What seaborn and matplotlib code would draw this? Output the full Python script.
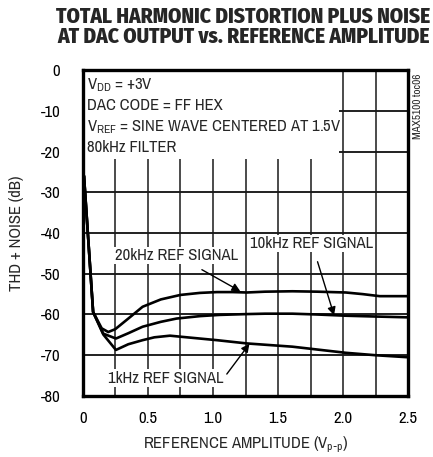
import numpy as np
import pandas as pd
import matplotlib
matplotlib.use("Agg")
import matplotlib.pyplot as plt
import seaborn as sns
from matplotlib.patches import Rectangle

# ---- data ----
x_20k = [0.01, 0.08, 0.146, 0.196, 0.25, 0.35, 0.46, 0.6, 0.75, 0.9, 1.03, 1.15, 1.26, 1.4, 1.61, 1.8, 2.02, 2.15, 2.28, 2.5]
y_20k = [-26, -59.4, -63.4, -64.3, -63.6, -61.0, -58.1, -56.3, -55.2, -54.7, -54.5, -54.5, -54.6, -54.4, -54.3, -54.4, -54.6, -55.0, -55.5, -55.5]

x_10k = [0.01, 0.08, 0.158, 0.255, 0.35, 0.46, 0.6, 0.72, 0.9, 1.05, 1.26, 1.4, 1.61, 1.8, 2.02, 2.25, 2.5]
y_10k = [-26, -59.4, -64.7, -65.9, -64.6, -63.0, -61.8, -61.0, -60.4, -60.1, -59.9, -59.8, -59.8, -60.0, -60.3, -60.5, -60.7]

x_1k = [0.01, 0.08, 0.158, 0.255, 0.35, 0.46, 0.55, 0.67, 0.8, 1.03, 1.26, 1.61, 2.02, 2.25, 2.5]
y_1k = [-26, -59.4, -64.9, -68.7, -67.3, -66.3, -65.6, -65.2, -65.6, -66.3, -67.1, -67.9, -69.4, -70.0, -70.5]

x_ticks = [0, 0.5, 1.0, 1.5, 2.0, 2.5]
x_tick_labels = ["0", "0.5", "1.0", "1.5", "2.0", "2.5"]
y_ticks = [0, -10, -20, -30, -40, -50, -60, -70, -80]

series_names = ["20kHz", "10kHz", "1kHz"]

df = pd.concat([
    pd.DataFrame({"x": x_20k, "y": y_20k, "series": series_names[0]}),
    pd.DataFrame({"x": x_10k, "y": y_10k, "series": series_names[1]}),
    pd.DataFrame({"x": x_1k, "y": y_1k, "series": series_names[2]}),
], ignore_index=True)

# ---- style ----
sns.set_style("white")
FONT = ["Archivo Narrow", "DejaVu Sans"]
TITLE_FONT = ["Fira Sans Condensed", "DejaVu Sans"]
plt.rcParams["font.family"] = FONT
plt.rcParams["mathtext.default"] = "regular"
FS = 12

fig = plt.figure(figsize=(4.33, 4.57), dpi=100)
ax = fig.add_axes([0.191, 0.1335, 0.752, 0.7133])

sns.lineplot(data=df, x="x", y="y", hue="series", palette=["black"] * 3,
             legend=False, sort=False, estimator=None, linewidth=1.9, ax=ax,
             zorder=3)

ax.set_xlim(0, 2.5)
ax.set_ylim(-80, 0)
ax.set_xticks(x_ticks)
ax.set_xticklabels(x_tick_labels)
ax.set_xticks(np.arange(0, 2.51, 0.25), minor=True)
ax.set_yticks(y_ticks)
ax.set_yticklabels([str(v) for v in y_ticks])
ax.tick_params(axis="both", which="both", length=0, labelsize=FS, colors="black")
ax.tick_params(axis="x", pad=11)
ax.tick_params(axis="y", pad=16)
ax.set_axisbelow(True)
ax.grid(True, which="both", axis="x", color="0.1", linewidth=1.1)
ax.grid(True, which="major", axis="y", color="0.1", linewidth=1.1)
for yv in y_ticks:
    ax.axhline(yv, color="0.1", linewidth=1.1, zorder=0.6)
for s in ax.spines.values():
    s.set_linewidth(2.4)
    s.set_color("black")

ax.set_xlabel(r"REFERENCE AMPLITUDE (V$_{p\text{-}p}$)", fontsize=FS, labelpad=6)
ax.set_ylabel("THD + NOISE (dB)", fontsize=FS, labelpad=12)

# white box behind conditions text
ax.add_patch(Rectangle((0.0, -21.8), 1.97, 21.8, facecolor="white",
                       edgecolor="none", zorder=1))
cond = [r"V$_{DD}$ = +3V", "DAC CODE = FF HEX",
        r"V$_{REF}$ = SINE WAVE CENTERED AT 1.5V", "80kHz FILTER"]
for i, t in enumerate(cond):
    ax.text(0.03, -3.7 - 5.1 * i, t, fontsize=FS, va="center", ha="left", zorder=4)

# annotations
bbox = dict(facecolor="white", edgecolor="none", pad=1.0)
ax.annotate("20kHz REF SIGNAL", xy=(1.21, -54.3), xytext=(0.72, -45.5),
            fontsize=FS, ha="center", va="center", bbox=bbox, zorder=5,
            arrowprops=dict(arrowstyle="-|>", color="black", lw=1.0,
                            shrinkA=8, shrinkB=0, mutation_scale=12))
ax.annotate("10kHz REF SIGNAL", xy=(1.93, -60.2), xytext=(1.76, -42.6),
            fontsize=FS, ha="center", va="center", bbox=bbox, zorder=5,
            arrowprops=dict(arrowstyle="-|>", color="black", lw=1.0,
                            shrinkA=7, shrinkB=0, mutation_scale=12))
ax.annotate("1kHz REF SIGNAL", xy=(1.28, -67.2), xytext=(0.64, -75.6),
            fontsize=FS, ha="center", va="center", bbox=bbox, zorder=5,
            arrowprops=dict(arrowstyle="-|>", color="black", lw=1.0,
                            shrinkA=2, shrinkB=0, mutation_scale=12,
                            relpos=(1.0, 0.5)))

# title
fig.text(0.562, 0.963, "TOTAL HARMONIC DISTORTION PLUS NOISE", fontsize=15.3,
         fontweight="heavy", family=TITLE_FONT, ha="center", va="center")
fig.text(0.562, 0.919, "AT DAC OUTPUT vs. REFERENCE AMPLITUDE", fontsize=15.3,
         fontweight="heavy", family=TITLE_FONT, ha="center", va="center")

# side code
fig.text(0.966, 0.768, "MAX5100 toc06", fontsize=8, rotation=90,
         ha="center", va="center")

fig.savefig("out.png", dpi=100)
